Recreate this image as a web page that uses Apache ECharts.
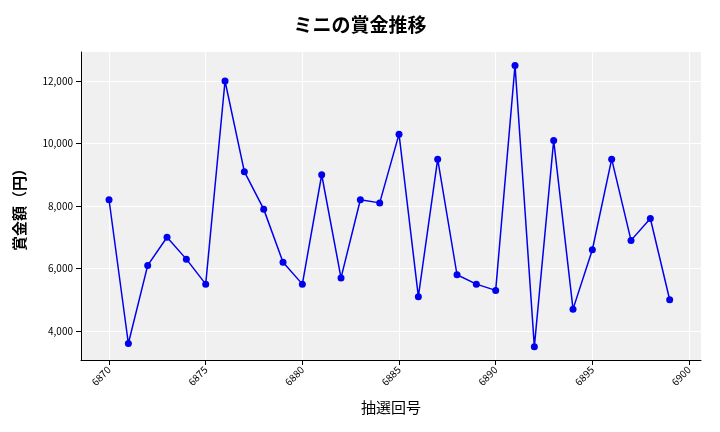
<!DOCTYPE html>
<html><head><meta charset="utf-8">
<script src="https://cdn.jsdelivr.net/npm/echarts@6/dist/echarts.min.js"></script>
<style>body{margin:0}#c{width:720px;height:432px}</style></head>
<body><div id="c"></div>
<script>
const draws=[6870,6871,6872,6873,6874,6875,6876,6877,6878,6879,6880,6881,6882,6883,6884,6885,6886,6887,6888,6889,6890,6891,6892,6893,6894,6895,6896,6897,6898,6899];
const prizes=[8200,3600,6100,7000,6300,5500,12000,9100,7900,6200,5500,9000,5700,8200,8100,10300,5100,9500,5800,5500,5300,12500,3500,10100,4700,6600,9500,6900,7600,5000];
const xTicks=[6870,6875,6880,6885,6890,6895,6900];
const yTicks=[4000,6000,8000,10000,12000];
const title='ミニの賞金推移';
const f='"Noto Sans CJK JP", sans-serif';
const c=echarts.init(document.getElementById('c'));
c.setOption({
 animation:false,
 title:{text:title,left:'center',top:10,textStyle:{fontFamily:f,fontSize:19,fontWeight:'bold',color:'#000'}},
 grid:{left:81,right:19,top:52,bottom:72},
 xAxis:{type:'value',min:6868.55,max:6900.62,
  axisLabel:{customValues:xTicks,rotate:45,fontFamily:f,fontSize:10,color:'#000',formatter:v=>String(v)},
  axisTick:{show:true,customValues:xTicks,lineStyle:{color:'#000'}},axisLine:{lineStyle:{color:'#000'}},
  splitLine:{show:true,lineStyle:{color:'#fff'}},
  name:'抽選回号',nameLocation:'middle',nameGap:40,nameTextStyle:{fontFamily:f,fontSize:15,color:'#000'}},
 yAxis:{type:'value',min:3072,max:12928,
  axisLabel:{customValues:yTicks,fontFamily:f,fontSize:10,color:'#000',formatter:v=>v.toLocaleString('en-US')},
  axisTick:{show:true,customValues:yTicks,lineStyle:{color:'#000'}},axisLine:{show:true,lineStyle:{color:'#000'}},
  splitLine:{show:true,lineStyle:{color:'#fff'}},
  name:'賞金額（円）',nameLocation:'middle',nameGap:54,nameTextStyle:{fontFamily:f,fontSize:15,fontWeight:'bold',color:'#000'}},
 series:[{type:'line',data:draws.map((d,i)=>[d,prizes[i]]),color:'#0000ee',symbol:'circle',symbolSize:7,
  lineStyle:{width:1.5,color:'#0000ee'},itemStyle:{color:'#0000ee'}}],
 graphic:[{type:'rect',z:-1,shape:{x:81,y:52,width:620,height:308},style:{fill:'#f0f0f0'}}]
});
</script></body></html>
